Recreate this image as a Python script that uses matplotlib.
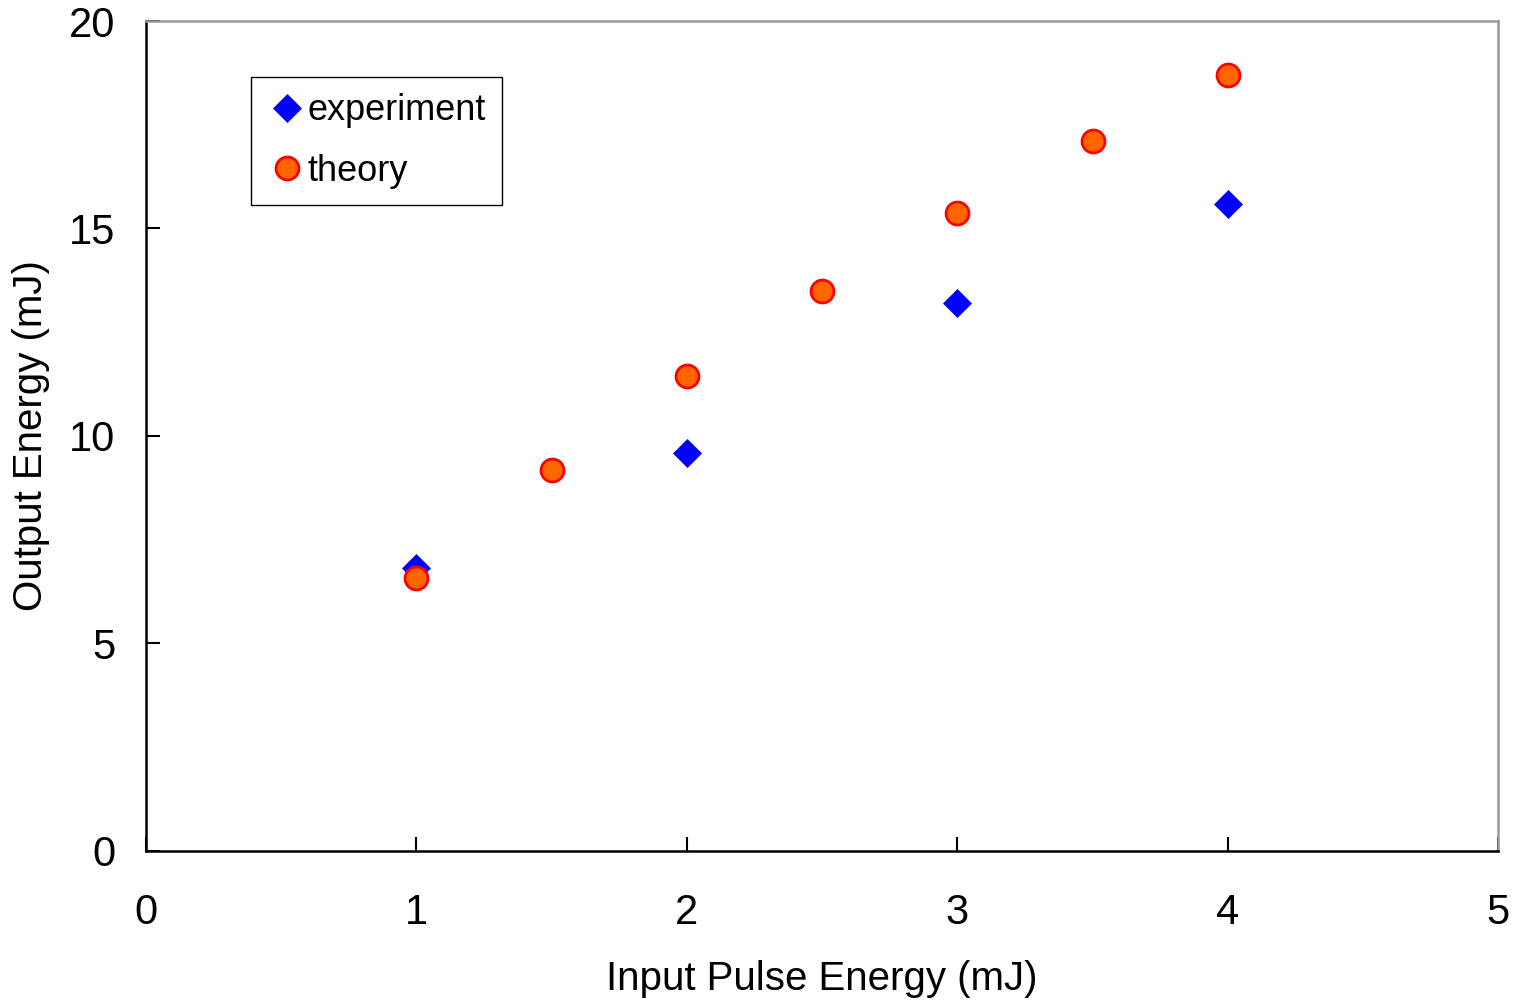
import matplotlib
matplotlib.use("Agg")
import matplotlib.pyplot as plt

plt.rcParams["font.family"] = ["Liberation Sans", "DejaVu Sans"]

# data
exp_x = [1, 2, 3, 4]
exp_y = [6.82, 9.6, 13.2, 15.6]
theory_x = [1, 1.5, 2, 2.5, 3, 3.5, 4]
theory_y = [6.58, 9.18, 11.45, 13.5, 15.37, 17.1, 18.7]

fig = plt.figure(figsize=(15.21, 10.01), dpi=100)
ax = fig.add_axes([0.096, 0.15, 0.889, 0.829])

ax.plot(exp_x, exp_y, linestyle="none", marker="D", markersize=14.5,
        markerfacecolor="#0000FF", markeredgecolor="#0000FF", markeredgewidth=0.5,
        label="experiment")
ax.plot(theory_x, theory_y, linestyle="none", marker="o", markersize=16.5,
        markerfacecolor="#FF6600", markeredgecolor="#FF0000", markeredgewidth=2,
        label="theory")

ax.set_xlim(0, 5)
ax.set_ylim(0, 20)
ax.set_xticks([0, 1, 2, 3, 4, 5])
ax.set_yticks([0, 5, 10, 15, 20])
ax.tick_params(direction="in", length=10, width=1.5, color="black", labelsize=30)
ax.tick_params(axis="x", pad=30)
ax.tick_params(axis="y", pad=22)

for side in ("left", "bottom"):
    ax.spines[side].set_linewidth(1.8)
    ax.spines[side].set_color("black")
for side in ("top", "right"):
    ax.spines[side].set_linewidth(1.8)
    ax.spines[side].set_color("#999999")

ax.set_xlabel("Input Pulse Energy (mJ)", fontsize=29, labelpad=20)
ax.set_ylabel("Output Energy (mJ)", fontsize=29, labelpad=14)

leg = ax.legend(loc="upper left", bbox_to_anchor=(0.0777, 0.9325), fontsize=26,
                frameon=True, fancybox=False, edgecolor="black", framealpha=1,
                handletextpad=0.0, borderpad=0.45, labelspacing=0.7,
                handlelength=1.1, borderaxespad=0)
leg.get_frame().set_linewidth(1.0)

fig.savefig("out.png", dpi=100, facecolor="white")
